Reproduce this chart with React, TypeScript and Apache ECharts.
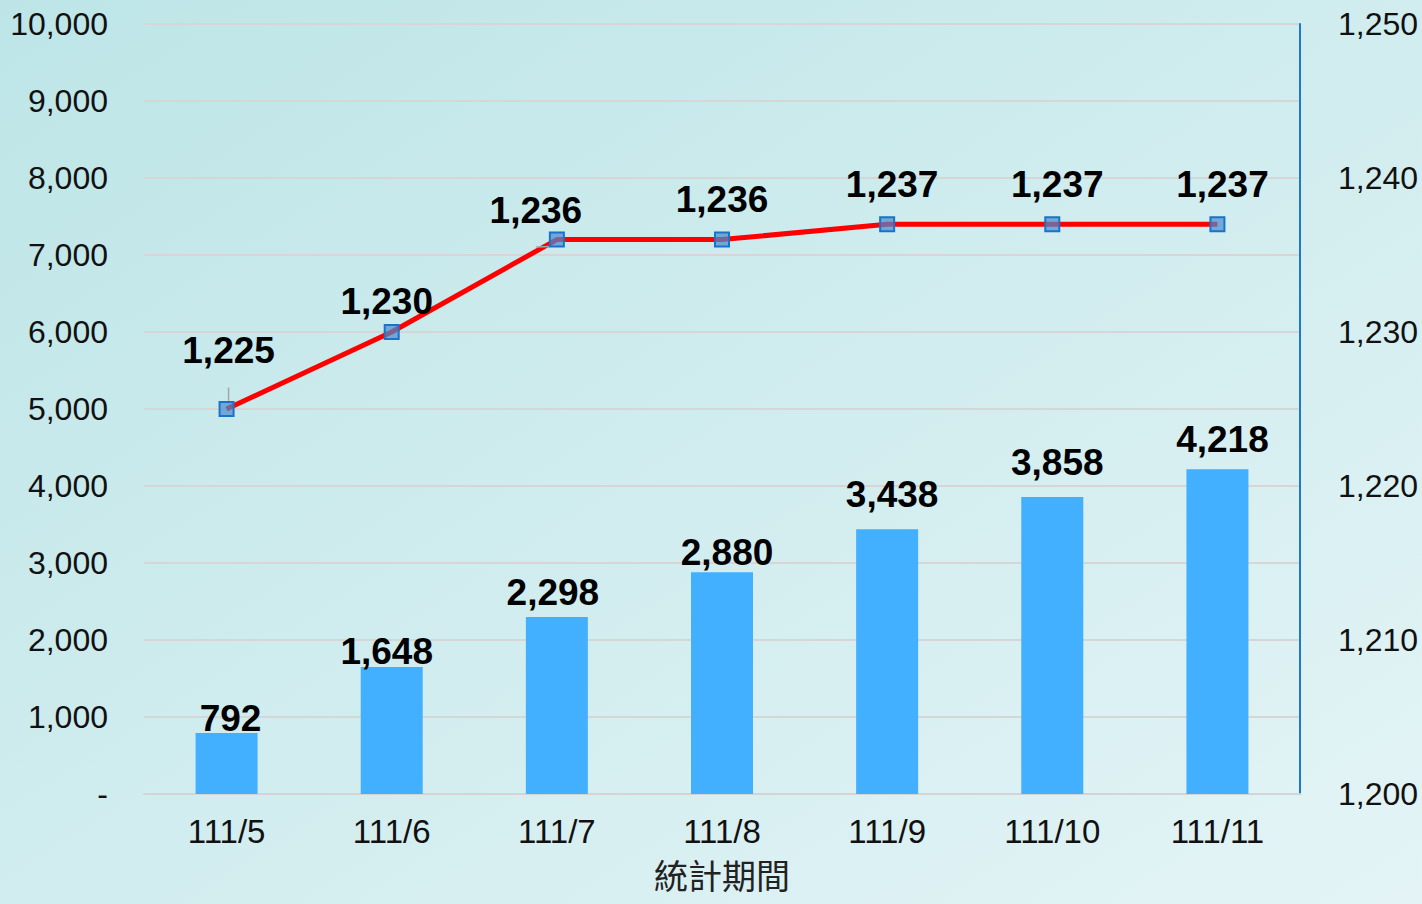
import React, { useEffect, useRef } from "react";
import * as echarts from "echarts";

const categories = ["111/5", "111/6", "111/7", "111/8", "111/9", "111/10", "111/11"];
const barValues = [792, 1648, 2298, 2880, 3438, 3858, 4218];
const lineValues = [1225, 1230, 1236, 1236, 1237, 1237, 1237];
const leftTicks = { min: 0, max: 10000, interval: 1000 };
const rightTicks = { min: 1200, max: 1250, interval: 10 };
const xAxisName = "統計期間";

// label nudges (style only)
const barLabelDx = [4, -5, -4, 5, 5, 5, 5];
const barLabelDy = [4, 3, -6, -1, -16, -16, -11];
const lineLabelDx = [2, -5, -21, 0, 5, 5, 5];
const lineLabelDy = [-32, -4, -3, -14, -13, -13, -13];

const FONT = "'Liberation Sans', Arial, 'Noto Sans CJK TC', sans-serif";

const fmt = (v: number) => v.toLocaleString("en-US");

export default function App() {
  const ref = useRef<HTMLDivElement>(null);
  useEffect(() => {
    const chart = echarts.init(ref.current!, null, { renderer: "svg" });
    const labelBase = {
      show: true,
      position: "top",
      distance: 0,
      fontSize: 37,
      fontWeight: "bold",
      color: "#000",
      fontFamily: FONT,
      formatter: (p: any) => fmt(p.value),
    };
    chart.setOption({
      animation: false,
      backgroundColor: new echarts.graphic.LinearGradient(0, 0, 1, 1, [
        { offset: 0, color: "#bde5e7" },
        { offset: 1, color: "#e4f4f6" },
      ]),
      textStyle: { fontFamily: FONT },
      grid: { left: 144, right: 122, top: 24, bottom: 110, outerBoundsMode: "none", containLabel: false },
      xAxis: {
        type: "category",
        data: categories,
        name: xAxisName,
        nameLocation: "middle",
        nameGap: 62,
        nameTextStyle: { fontSize: 34, lineHeight: 36, color: "#222", fontFamily: "'Noto Sans CJK TC', sans-serif" },
        axisLine: { lineStyle: { color: "#d4d4d4", width: 2 } },
        axisTick: { show: false },
        axisLabel: { fontSize: 33, color: "#111", margin: 21, fontFamily: FONT },
      },
      yAxis: [
        {
          type: "value",
          min: leftTicks.min,
          max: leftTicks.max,
          interval: leftTicks.interval,
          axisLine: { show: false },
          axisTick: { show: false },
          splitLine: { lineStyle: { color: "#d6d6d6", width: 2 } },
          axisLabel: {
            fontSize: 32,
            color: "#111",
            margin: 36,
            fontFamily: FONT,
            formatter: (v: number) => (v === 0 ? "-" : fmt(v)),
          },
        },
        {
          type: "value",
          position: "right",
          min: rightTicks.min,
          max: rightTicks.max,
          interval: rightTicks.interval,
          axisLine: { show: true, lineStyle: { color: "#1f78c8", width: 2 } },
          axisTick: { show: false },
          splitLine: { show: false },
          axisLabel: {
            fontSize: 32,
            color: "#111",
            margin: 38,
            fontFamily: FONT,
            formatter: (v: number) => fmt(v),
          },
        },
      ],
      series: [
        {
          type: "bar",
          data: barValues.map((v, i) => ({
            value: v,
            label: { offset: [barLabelDx[i], barLabelDy[i]] },
          })),
          yAxisIndex: 0,
          barWidth: 62,
          itemStyle: { color: "#42b0ff" },
          label: labelBase,
        },
        {
          type: "line",
          data: lineValues.map((v, i) => ({
            value: v,
            label: { offset: [lineLabelDx[i], lineLabelDy[i]] },
          })),
          yAxisIndex: 1,
          z: 5,
          lineStyle: { color: "#ff0000", width: 5 },
          symbol: "rect",
          symbolSize: 14,
          itemStyle: { color: "rgba(70,140,210,0.7)", borderColor: "#1a73c8", borderWidth: 2 },
          label: labelBase,
          labelLine: { show: true, lineStyle: { color: "#a6a6a6", width: 1.5 } },
        },
      ],
    });
    return () => chart.dispose();
  }, []);
  return (
    <div
      ref={ref}
      style={{ position: "fixed", left: 0, top: 0, width: 1422, height: 904 }}
    />
  );
}
